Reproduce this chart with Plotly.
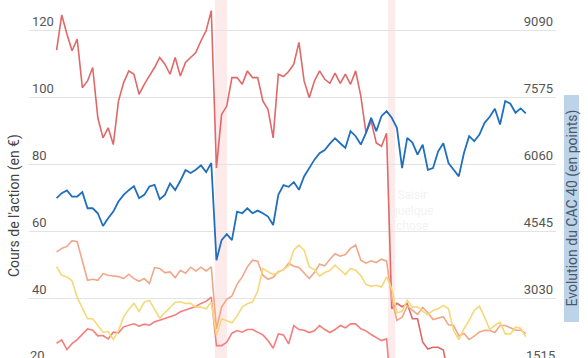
import pandas as pd
import plotly.graph_objects as go

start_date = "2018-07-05"
n_points = 92
dates = pd.date_range(start=start_date, periods=n_points, freq="20D")

action_a = [114.2, 124.7, 119, 114, 117.5, 103, 105, 109, 94, 88, 91, 86, 99, 104.5, 108, 107,
            101, 104, 106.5, 109, 112, 110, 107, 112, 106.5, 110.5, 112, 113.5, 117, 120, 126, 79,
            95, 97.5, 106, 106, 104, 108, 106, 106, 99, 96.5, 88, 107, 106.3, 107.8, 110, 116.5,
            105, 100, 105, 108, 105.5, 104.3, 107.3, 104.3, 107, 104, 108, 100.5, 89.5, 93, 86.5,
            85.5, 89.4, 37, 38.6, 37.6, 38.5, 34, 34, 27, 25, 25.5, 25.5, 24.7, 17]

cac40 = [5303, 5416, 5477, 5340, 5340, 5439, 5075, 5075, 4962, 4674, 4848, 5000, 5227, 5378,
         5484, 5575, 5303, 5378, 5568, 5606, 5280, 5378, 5636, 5484, 5696, 5939, 5871, 5946,
         6045, 5893, 6098, 3901, 4356, 4492, 4356, 5000, 4962, 5075, 4962, 5022, 4962, 4886,
         4697, 5378, 5598, 5560, 5666, 5492, 5795, 5984, 6174, 6318, 6393, 6537, 6658, 6545,
         6439, 6818, 6704, 6515, 6780, 7121, 6818, 7158, 7272, 7121, 6893, 5984, 6666, 6560,
         6287, 6515, 5946, 5984, 6363, 6545, 6098, 5946, 5795, 6325, 6704, 6590, 6742, 7007,
         7143, 7325, 6969, 7499, 7439, 7234, 7333, 7219]

action_c = [54.0, 55.0, 55.6, 57.3, 57.0, 51.5, 45.5, 45.8, 45.5, 47.5, 47.0, 46.8, 46.6, 46.0,
            47.3, 46.0, 45.2, 46.0, 44.5, 49.3, 49.0, 47.8, 48.0, 46.3, 48.5, 47.6, 49.4, 48.3,
            49.4, 48.3, 49.5, 31.0, 37.5, 39.8, 40.8, 44.3, 46.5, 49.5, 51.5, 51.2, 47.0, 45.8,
            46.4, 48.1, 48.6, 50.6, 49.7, 49.3, 47.5, 46.0, 47.8, 50.3, 49.8, 51.8, 53.4, 52.7,
            53.2, 55.0, 56.0, 51.5, 50.6, 51.3, 50.8, 51.8, 51.2, 40.0, 33.5, 34.5, 37.8, 36.5,
            35.3, 37.4, 35.8, 33.8, 34.2, 34.6, 32.2, 32.0, 28.9, 29.6, 27.8, 28.8, 30.1, 30.6,
            30.5, 29.9, 32.0, 32.0, 31.3, 30.6, 30.6, 29.6]

action_d = [49.6, 47.0, 46.5, 45.3, 40.4, 37.0, 34.0, 34.0, 32.0, 30.0, 30.2, 27.8, 30.5, 34.5,
            36.8, 38.6, 36.2, 39.0, 39.5, 37.0, 34.2, 35.8, 37.2, 38.9, 39.1, 38.6, 38.6, 37.5,
            37.5, 37.0, 39.0, 29.0, 34.0, 33.5, 32.8, 34.8, 37.6, 38.5, 39.0, 42.3, 49.0, 48.1,
            47.2, 47.8, 48.9, 49.8, 54.5, 56.0, 54.5, 49.5, 48.7, 46.7, 47.8, 48.4, 50.0, 48.5,
            47.2, 49.0, 48.5, 46.9, 44.3, 43.7, 44.0, 43.5, 46.5, 43.0, 35.8, 36.2, 39.5, 37.4,
            37.6, 36.3, 35.2, 36.5, 37.0, 38.0, 37.0, 30.5, 27.8, 31.0, 33.5, 36.5, 37.8, 34.5,
            30.8, 32.0, 33.0, 29.5, 29.5, 31.5, 31.2, 28.6]

action_e = [26.7, 27.7, 24.8, 26.6, 27.8, 29.5, 31.0, 30.6, 28.9, 29.0, 28.0, 30.0, 29.8, 31.6,
            32.1, 32.5, 31.8, 32.4, 32.1, 33.1, 33.6, 34.0, 34.6, 35.1, 36.1, 36.6, 37.2, 37.7,
            38.6, 39.2, 40.5, 26.0, 26.0, 27.0, 29.7, 30.5, 30.0, 30.8, 30.8, 30.0, 29.2, 27.5,
            25.2, 29.5, 29.2, 26.5, 32.0, 30.8, 30.6, 29.9, 30.4, 32.0, 30.8, 29.9, 30.8, 32.0,
            31.3, 32.5, 32.5, 31.0, 30.4, 29.3, 28.3, 27.5, 28.0, 10.0]

bands = [("2020-03-10", "2020-04-26"), ("2022-01-11", "2022-02-07")]
left_ticks = [20, 40, 60, 80, 100, 120]
right_ticks = [1515, 3030, 4545, 6060, 7575, 9090]
left_range = [22.30, 129.16]
right_range = [1689.2, 9783.9]
x_range = ["2018-03-20", "2023-10-24"]

left_title = "Cours de l'action (en €)"
right_title = "Evolution du CAC 40 (en points)"
placeholder = "Saisir<br>quelque<br>chose"

# ---- figure ----
W, H = 588, 358
ML, MR = 29, 32
PW = W - ML - MR

def px_x(px):
    return (px - ML) / PW

def px_y(py):
    return 1 - py / H

fig = go.Figure()
font = "Roboto, Arial, sans-serif"

fig.add_trace(go.Scatter(x=dates[:len(action_a)], y=action_a, mode="lines",
                         line=dict(color="#e06868", width=1.6), hoverinfo="skip"))
fig.add_trace(go.Scatter(x=dates[:len(action_e)], y=action_e, mode="lines",
                         line=dict(color="#f77d7d", width=1.6), hoverinfo="skip"))
fig.add_trace(go.Scatter(x=dates, y=action_c, mode="lines",
                         line=dict(color="#f2a688", width=1.6), hoverinfo="skip"))
fig.add_trace(go.Scatter(x=dates, y=action_d, mode="lines",
                         line=dict(color="#f6d878", width=1.6), hoverinfo="skip"))
fig.add_trace(go.Scatter(x=dates, y=cac40, mode="lines", yaxis="y2",
                         line=dict(color="#1f6fbe", width=1.8), hoverinfo="skip"))

for b0, b1 in bands:
    fig.add_shape(type="rect", xref="x", yref="paper", x0=b0, x1=b1, y0=0, y1=1,
                  fillcolor="rgba(240,120,120,0.15)", line=dict(width=0), layer="below")

# right-axis title box
fig.add_shape(type="rect", xref="paper", yref="paper",
              x0=px_x(564), x1=px_x(579), y0=px_y(322), y1=px_y(95),
              fillcolor="#bcd3ea", line=dict(width=0), layer="above")

fig.add_annotation(text=right_title, xref="paper", yref="paper", x=px_x(571.5), y=px_y(208),
                   textangle=-90, showarrow=False, font=dict(family=font, size=14, color="#4a5868"),
                   xanchor="center", yanchor="middle")
fig.add_annotation(text=left_title, xref="paper", yref="paper", x=px_x(14), y=px_y(206),
                   textangle=-90, showarrow=False, font=dict(family=font, size=14, color="#444"),
                   xanchor="center", yanchor="middle")
fig.add_annotation(text=placeholder, xref="paper", yref="paper", x=px_x(412), y=px_y(210),
                   showarrow=False, font=dict(family=font, size=12, color="#f3f3f3"),
                   align="center", xanchor="center", yanchor="middle")
# partially visible bottom tick labels
fig.add_annotation(text=str(left_ticks[0]), xref="paper", yref="paper", x=px_x(29), y=px_y(364),
                   showarrow=False, font=dict(family=font, size=13, color="#555"),
                   xanchor="left", yanchor="bottom", borderpad=0)
fig.add_annotation(text=str(right_ticks[0]), xref="paper", yref="paper", x=px_x(556), y=px_y(364),
                   showarrow=False, font=dict(family=font, size=13, color="#555"),
                   xanchor="right", yanchor="bottom", borderpad=0)

fig.update_layout(
    width=W, height=H,
    margin=dict(l=ML, r=MR, t=0, b=0, pad=0, autoexpand=False),
    paper_bgcolor="white", plot_bgcolor="white",
    showlegend=False,
    xaxis=dict(range=x_range, visible=False, showgrid=False, fixedrange=True),
    yaxis=dict(range=left_range, tickvals=left_ticks, showgrid=True, gridcolor="#e3e3e3",
               gridwidth=1, zeroline=False, showline=False, ticks="", ticklen=0,
               ticklabelposition="inside top", ticklabelstandoff=0,
               tickfont=dict(family=font, size=13, color="#555")),
    yaxis2=dict(range=right_range, tickvals=right_ticks, overlaying="y", side="right",
                showgrid=False, zeroline=False, showline=False, ticks="", ticklen=0,
                ticklabelposition="inside top", ticklabelstandoff=0,
                tickfont=dict(family=font, size=13, color="#555")),
)

fig.write_html("out.html", config={"displayModeBar": False},
               post_script="document.body.style.margin='0';document.body.style.overflow='hidden';")
